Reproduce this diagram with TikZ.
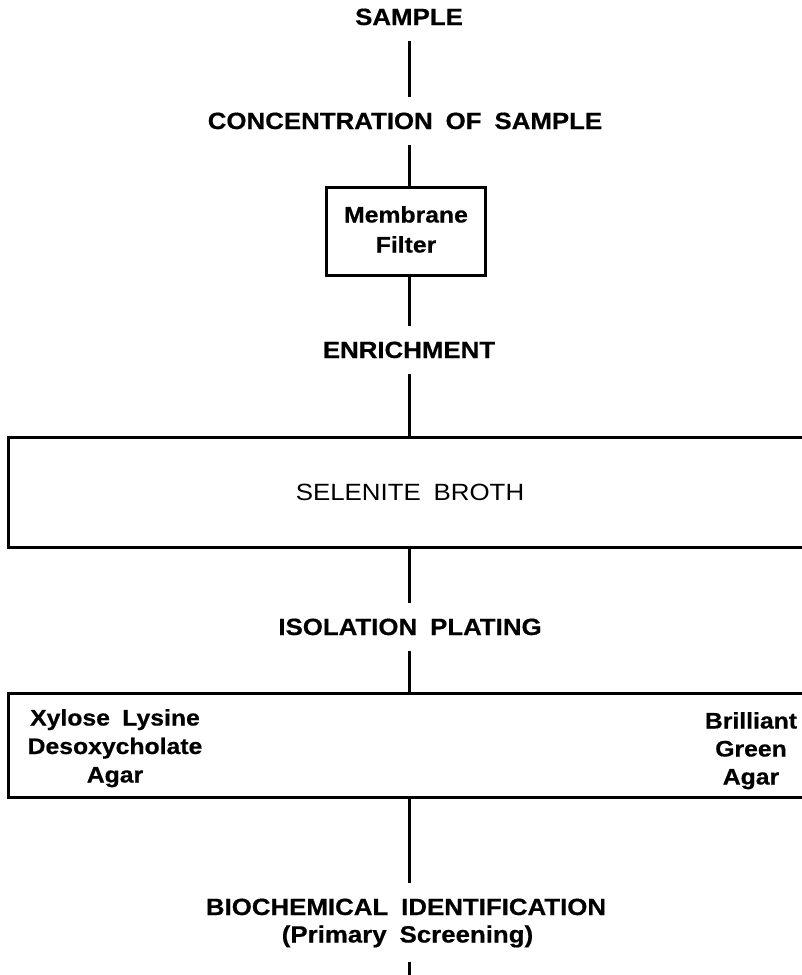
\documentclass[tikz,border=0pt]{standalone}
\usepackage{fontspec}
\setmainfont{Liberation Sans}[FakeStretch=1.1, BoldFeatures={FakeBold=0.6}]
\newcommand\wgap{\hspace{0.55em}}
\begin{document}
\begin{tikzpicture}[x=1pt,y=-1pt,
  txt/.style={font=\fontsize{23.5}{28.5}\selectfont\bfseries, text height=16pt, text depth=0pt},
  head/.style={txt, inner xsep=0pt, inner ysep=16pt},
  stack/.style={txt, align=center, text depth=5pt},
  link/.style={line width=3pt},
  box/.style={draw, line width=3pt, inner sep=0pt}]
\useasboundingbox (0,0) rectangle (801,975);
\coordinate (spine) at (409,0);

% stages down the middle
\node[head] (sample) at (409,17) {SAMPLE};
\node[head] (conc) at (405,121) {CONCENTRATION\wgap OF\wgap SAMPLE};
\node[box, minimum width=159pt, minimum height=88pt] (mf) at (405.5,231) {};
\node[stack, font=\fontsize{22.5}{30}\selectfont\bfseries] (mft) at (406,247) {Membrane\\Filter};
\node[head] (enr) at (409,350) {ENRICHMENT};
\node[box, minimum width=804pt, minimum height=110pt, text height=16pt, text depth=0pt,
      font=\fontsize{23.5}{26}\selectfont] (sel) at (410,492) {SELENITE\wgap BROTH};
\node[head] (iplate) at (410,627) {ISOLATION\wgap PLATING};
\node[box, minimum width=804pt, minimum height=104pt] (iso) at (410,745) {};
\node[stack, font=\fontsize{22.5}{28.5}\selectfont\bfseries] (xld) at (115,777) {Xylose\wgap Lysine\\Desoxycholate\\Agar};
\node[stack, font=\fontsize{22.5}{28}\selectfont\bfseries] (bga) at (751,779) {Brilliant\\Green\\Agar};
\node[head] (bio) at (406,907) {BIOCHEMICAL\wgap IDENTIFICATION};
\node[txt, inner xsep=0pt, inner ysep=14pt, text depth=5pt] (prim) at (407.5,937) {(Primary\wgap Screening)};
\coordinate (tail) at (409,985);

% connectors
\draw[link] (sample.south -| spine) -- (conc.north -| spine);
\draw[link] (conc.south -| spine) -- (mf.north -| spine);
\draw[link] (mf.south -| spine) -- (enr.north -| spine);
\draw[link] (enr.south -| spine) -- (sel.north -| spine);
\draw[link] (sel.south -| spine) -- (iplate.north -| spine);
\draw[link] (iplate.south -| spine) -- (iso.north -| spine);
\draw[link] (iso.south -| spine) -- (bio.north -| spine);
\draw[link] (prim.south -| spine) -- (tail);
\end{tikzpicture}
\end{document}
